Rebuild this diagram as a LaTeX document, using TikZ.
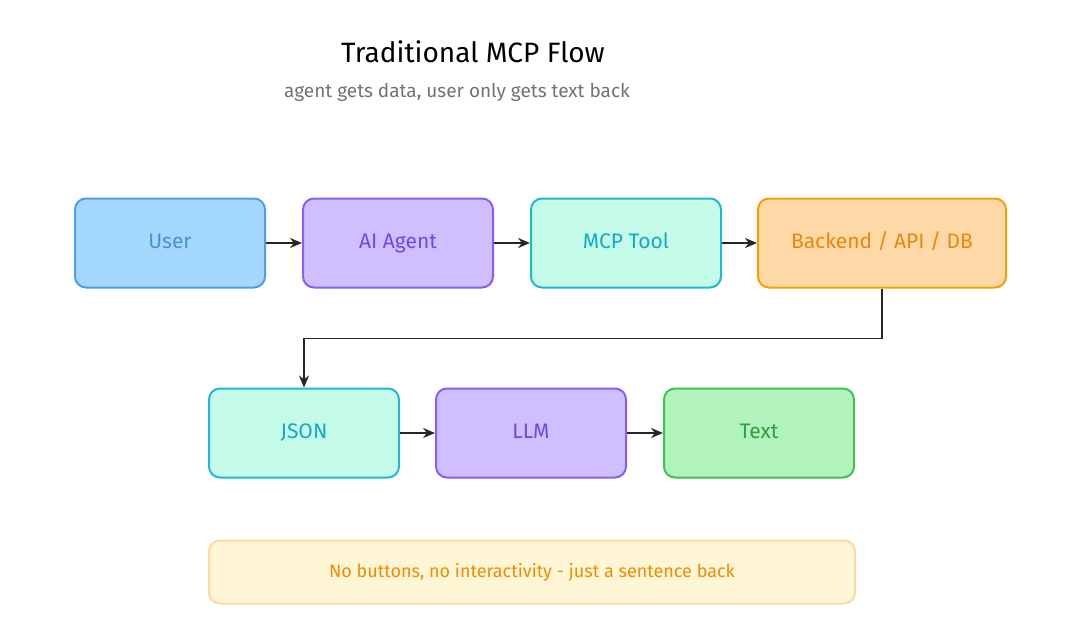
\documentclass[tikz,border=0pt]{standalone}
\usepackage{fontspec}
\setmainfont{Fira Sans}
\usetikzlibrary{arrows.meta,calc}
\definecolor{bfill}{HTML}{A5D8FF}\definecolor{bline}{HTML}{4A9EED}\definecolor{btext}{HTML}{4A8FD9}
\definecolor{pfill}{HTML}{D0BFFF}\definecolor{pline}{HTML}{8B5CF6}\definecolor{ptext}{HTML}{7048E8}
\definecolor{tfill}{HTML}{C3FAE8}\definecolor{tline}{HTML}{22B8CF}\definecolor{ttext}{HTML}{15AABF}
\definecolor{ofill}{HTML}{FFD8A8}\definecolor{oline}{HTML}{F59F00}\definecolor{otext}{HTML}{E8890C}
\definecolor{gfill}{HTML}{B2F2BB}\definecolor{gline}{HTML}{40C057}\definecolor{gtext}{HTML}{2F9E44}
\definecolor{yfill}{HTML}{FFF6D6}\definecolor{yline}{HTML}{FFD8A8}\definecolor{ytext}{HTML}{F08C00}
\tikzset{
 box/.style={draw,line width=2pt,rounded corners=11pt,minimum width=190pt,minimum height=89pt,text height=14pt,text depth=4pt,font=\fontsize{21}{24}\selectfont},
 conn/.style={-{Stealth[length=12pt,width=10pt]},line width=1.8pt,draw=black!85}
}
\begin{document}
\begin{tikzpicture}[x=1pt,y=-1pt]
\useasboundingbox (0,0) rectangle (1080,638);
\fill[white] (0,0) rectangle (1080,638);
\node (title) at (473,52) {\fontsize{28}{32}\selectfont Traditional MCP Flow};
\node[text=black!55] (sub) at (457,92) {\fontsize{19}{22}\selectfont agent gets data, user only gets text back};
\node[box,fill=bfill,draw=bline,text=btext] (user) at (170,243) {User};
\node[box,fill=pfill,draw=pline,text=ptext] (agent) at (398,243) {AI Agent};
\node[box,fill=tfill,draw=tline,text=ttext] (mcp) at (626,243) {MCP Tool};
\node[box,fill=ofill,draw=oline,text=otext,minimum width=248pt] (back) at (882,243) {Backend / API / DB};
\node[box,fill=tfill,draw=tline,text=ttext] (json) at (304,433) {JSON};
\node[box,fill=pfill,draw=pline,text=ptext] (llm) at (531,433) {LLM};
\node[box,fill=gfill,draw=gline,text=gtext] (text) at (759,433) {Text};
\node[box,fill=yfill,draw=yline,text=ytext,minimum width=646pt,minimum height=63pt,font=\fontsize{18}{21}\selectfont] (note) at (532,572) {No buttons, no interactivity - just a sentence back};
\draw[conn] (user) -- (agent);
\draw[conn] (agent) -- (mcp);
\draw[conn] (mcp) -- (back);
\draw[conn] (back.south) -- ++(0,50) -| (json.north);
\draw[conn] (json) -- (llm);
\draw[conn] (llm) -- (text);
\end{tikzpicture}
\end{document}
